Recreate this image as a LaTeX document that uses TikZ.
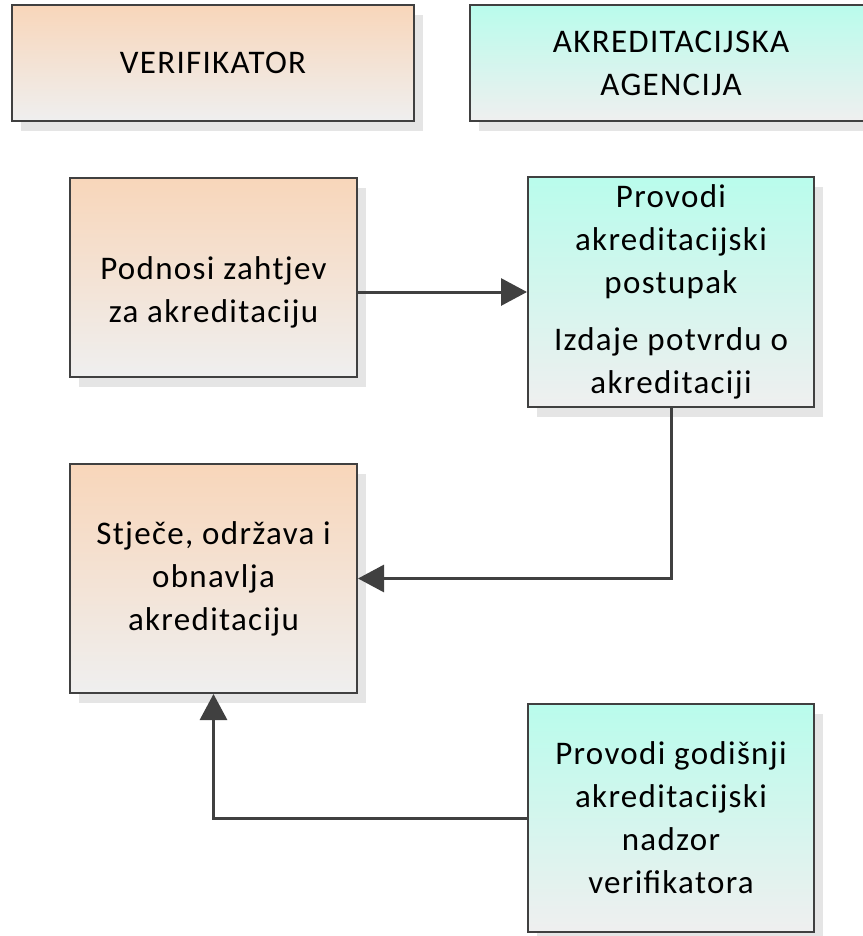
\documentclass[tikz,border=0pt]{standalone}
\usepackage{fontspec}
\setmainfont{Carlito}[LetterSpace=4]
\usetikzlibrary{arrows.meta,shadows}
\definecolor{peach}{RGB}{248,214,186}
\definecolor{mint}{RGB}{185,252,236}
\definecolor{fadegray}{RGB}{239,239,239}
\definecolor{edgegray}{RGB}{64,64,64}
\definecolor{shadowgray}{RGB}{229,229,229}
\tikzset{
	box/.style={rectangle, draw=edgegray, line width=2pt, inner sep=0pt, align=center,
		font=\fontsize{33}{43}\selectfont, bottom color=fadegray,
		drop shadow={shadow xshift=9pt, shadow yshift=-10pt, fill=shadowgray, opacity=1}},
	verifbox/.style={box, top color=peach},
	agencybox/.style={box, top color=mint},
	flow/.style={draw=edgegray, line width=3pt, -{Triangle[length=26pt,width=27pt]}}
}

\begin{document}
\begin{tikzpicture}[x=1pt, y=-1pt]
			%%%%% START %%%%%
			
			\useasboundingbox (0, 0) rectangle (862, 936);
			
			\node[verifbox, minimum width=402pt, minimum height=116pt] (verif) at (213, 63) {VERIFIKATOR};
			\node[agencybox, minimum width=402pt, minimum height=116pt] (agency) at (671, 63) {AKREDITACIJSKA\\AGENCIJA};
			
			\node[verifbox, minimum width=287pt, minimum height=199pt] (podnosi) at (213.5, 277.5) {\mbox{}\\[9pt]Podnosi zahtjev\\za akreditaciju};
			\node[agencybox, minimum width=286pt, minimum height=230pt] (provodi) at (671, 292) {Provodi\\akreditacijski\\postupak\\[14pt]Izdaje potvrdu o\\akreditaciji};
			
			\node[verifbox, minimum width=287pt, minimum height=229pt] (stjece) at (213.5, 578.5) {Stječe, održava i\\obnavlja\\akreditaciju};
			\node[agencybox, minimum width=286pt, minimum height=228pt] (nadzor) at (671, 818) {Provodi godišnji\\akreditacijski\\nadzor\\verifikatora};
			
			\draw[flow] (podnosi.east |- provodi.west) -- (provodi.west);
			\draw[flow] (provodi.south) |- (stjece.east);
			\draw[flow] (nadzor.west) -| (stjece.south);
			
			%%%%% END %%%%%
		\end{tikzpicture}
\end{document}
